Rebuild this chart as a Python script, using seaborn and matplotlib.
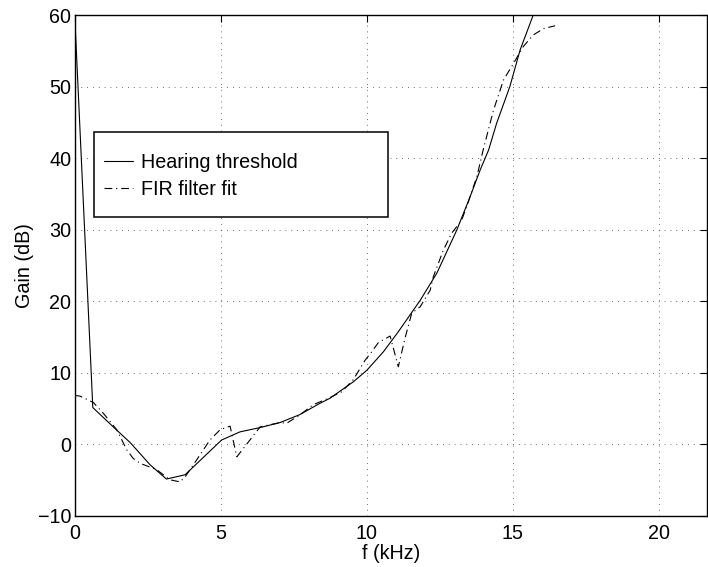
import matplotlib
matplotlib.use("Agg")
import matplotlib.pyplot as plt
import seaborn as sns
import pandas as pd
from matplotlib.patches import Rectangle

# ---- data ----
thr_f = [0.0, 0.62, 1.32, 1.9, 2.58, 3.14, 3.78, 5.03, 5.66, 6.35, 7.03, 7.7,
         8.4, 8.74, 9.54, 10.0, 10.57, 11.08, 11.83, 12.4, 13.08, 13.54, 13.88,
         14.17, 14.45, 14.9, 15.25, 15.7]
thr_g = [60.0, 5.1, 2.4, 0.2, -2.9, -4.9, -4.3, 0.56, 1.7, 2.3, 3.0, 4.1,
         5.7, 6.4, 8.7, 10.3, 12.9, 15.7, 20.1, 23.9, 29.9, 34.6, 38.3,
         41.1, 44.9, 50.0, 55.1, 60.0]

fir_f = [0.0, 0.18, 0.64, 0.98, 1.44, 1.78, 2.0, 2.24, 2.81, 3.26, 3.61, 3.78,
         4.18, 4.63, 4.98, 5.32, 5.55, 5.95, 6.35, 7.03, 7.26, 7.72, 8.17, 8.74,
         9.14, 9.54, 9.94, 10.17, 10.4, 10.8, 11.08, 11.31, 11.54, 11.83, 12.17,
         12.28, 12.62, 12.91, 13.25, 13.48, 13.77, 13.99, 14.34, 14.68, 15.02,
         15.36, 15.7, 16.05, 16.45]
fir_g = [6.8, 6.7, 5.8, 4.3, 2.0, -0.8, -2.0, -2.7, -3.6, -5.0, -5.3, -4.6,
         -2.2, 0.56, 2.0, 2.5, -1.8, 0.3, 2.4, 3.0, 2.9, 4.1, 5.5, 6.5,
         7.3, 9.0, 11.7, 12.9, 14.2, 15.1, 10.8, 14.8, 18.3, 19.2, 21.5,
         23.4, 27.1, 29.5, 31.3, 33.9, 37.4, 41.2, 46.7, 50.9, 53.2,
         55.6, 57.2, 58.1, 58.5]

x_ticks = [0, 5, 10, 15, 20]
y_ticks = [-10, 0, 10, 20, 30, 40, 50, 60]
labels = ["Hearing threshold", "FIR filter fit"]

# ---- style ----
sns.set_theme(style="white")
plt.rcParams["font.family"] = ["Liberation Sans", "DejaVu Sans"]
plt.rcParams["axes.unicode_minus"] = True
FS = 14.2

fig = plt.figure(figsize=(7.08, 5.67), dpi=100)
ax = fig.add_axes([74.7 / 708, 0.0908, (707 - 74.7) / 708, 0.8827])

df_thr = pd.DataFrame({"f": thr_f, "g": thr_g})
df_fir = pd.DataFrame({"f": fir_f, "g": fir_g})

sns.lineplot(data=df_thr, x="f", y="g", ax=ax, color="black", linewidth=0.8,
             estimator=None, sort=False, label=labels[0], zorder=3)
sns.lineplot(data=df_fir, x="f", y="g", ax=ax, color="black", linewidth=0.8,
             estimator=None, sort=False, label=labels[1], zorder=3)
ax.lines[1].set_linestyle((0, (7, 3.5, 1, 3.5)))

ax.set_xlim(0, 21.65)
ax.set_ylim(-10, 60)
ax.set_xticks(x_ticks)
ax.set_yticks(y_ticks)

ax.grid(True, which="major", color="0.25", linestyle=(0, (1, 6)), linewidth=0.6)
ax.set_axisbelow(True)

for s in ax.spines.values():
    s.set_color("black")
    s.set_linewidth(1.0)
    s.set_visible(True)

ax.tick_params(axis="both", which="major", direction="in", top=True, right=True,
               length=5, width=0.8, color="black", labelsize=FS, labelcolor="black")
ax.tick_params(axis="x", pad=6)
ax.tick_params(axis="y", pad=2.5)

ax.set_xlabel("f (kHz)", fontsize=FS, color="black")
ax.set_ylabel("Gain (dB)", fontsize=FS, color="black")
ax.xaxis.set_label_coords(0.5, -0.057)
ax.yaxis.set_label_coords(-0.079, 0.5)
ax.yaxis.label.set_verticalalignment("center")

# legend box (MATLAB style) drawn as rectangle + frameless legend
ax.add_patch(Rectangle((0.0305, 0.596), 0.465, 0.170, transform=ax.transAxes,
                       facecolor="white", edgecolor="black", linewidth=1.1, zorder=5))
leg = ax.legend(loc="center left", bbox_to_anchor=(0.0463, 0.678), frameon=False,
                fontsize=FS, handlelength=1.45, handletextpad=0.42, labelspacing=0.4,
                borderpad=0, borderaxespad=0)
leg.set_zorder(6)
for t in leg.get_texts():
    t.set_color("black")

fig.savefig("out.png", dpi=100)
